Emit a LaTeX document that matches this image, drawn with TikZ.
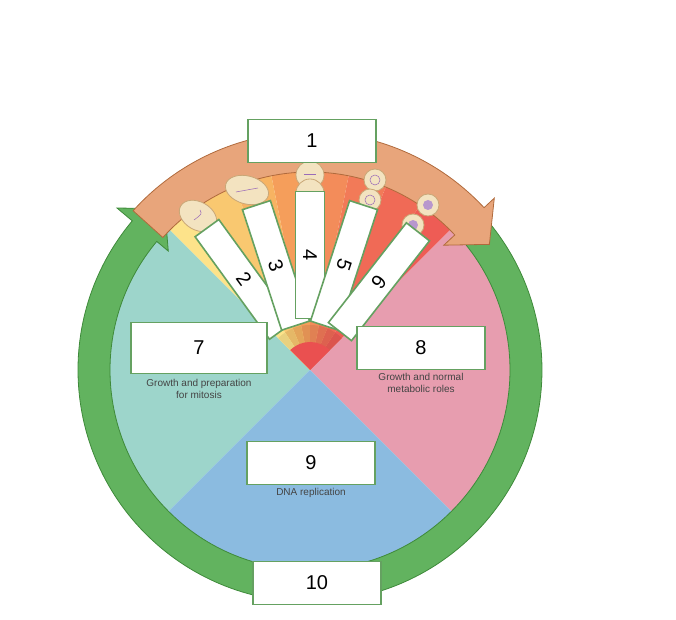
\documentclass[tikz,border=0pt]{standalone}
\usepackage{fontspec}
\setmainfont{Liberation Sans}
\usetikzlibrary{positioning}
\definecolor{gtwo}{HTML}{9DD5CB}
\definecolor{sphase}{HTML}{8BBBE0}
\definecolor{gone}{HTML}{E79DAF}
\definecolor{ringgreen}{HTML}{62B35F}
\definecolor{ringedge}{HTML}{3E8A3A}
\definecolor{mphase}{HTML}{E8A57B}
\definecolor{mphaseedge}{HTML}{B06A3C}
\definecolor{cellfill}{HTML}{F3E3C0}
\definecolor{celledge}{HTML}{C9A777}
\definecolor{chrom}{HTML}{9A6BB8}
\definecolor{labeltext}{HTML}{444444}
\definecolor{corered}{HTML}{EA5050}
\tikzset{
  numbox/.style={draw=ringedge!80, fill=white, line width=1.2pt, minimum width=96, minimum height=32, font=\fontsize{15}{15}\selectfont},
  stagebox/.style={draw=ringedge!80, fill=white, line width=1.2pt, minimum width=95, minimum height=22, font=\fontsize{15}{15}\selectfont},
  note/.style={font=\fontsize{7.5}{9}\selectfont, text=labeltext, align=center},
  cell/.style={draw=celledge, fill=cellfill, line width=0.6pt}
}
\begin{document}
\begin{tikzpicture}[x=0.75pt, y=0.75pt]
        \useasboundingbox (-310,-250) rectangle (366,370);

        % interphase sectors
        \fill[gone] (0,0) -- (-45:200) arc (-45:45:200) -- cycle;
        \fill[gtwo] (0,0) -- (135:200) arc (135:225:200) -- cycle;
        \fill[sphase] (0,0) -- (225:200) arc (225:315:200) -- cycle;

        % mitosis strips
        \foreach \i/\c in {0/EE5C55, 1/F06A56, 2/F27A58, 3/F38C5A, 4/F59E5B, 5/F7B362, 6/F9C870, 7/FDE38A} {
          \definecolor{strip}{HTML}{\c}
          \fill[strip] (0,0) -- ({45+11.25*\i}:200) arc ({45+11.25*\i}:{56.25+11.25*\i}:200) -- cycle;
          \fill[strip!92!black] (0,0) -- ({45+11.25*\i}:45) arc ({45+11.25*\i}:{56.25+11.25*\i}:45) -- cycle;
        }
        \fill[corered] (0,0) -- (45:28) arc (45:135:28) -- cycle;

        % green ring arrow
        \filldraw[ringgreen, draw=ringedge, line width=0.6pt]
          (42:200) arc (42:-220:200) -- (-220:185) -- (-228:217) -- (-220:252) -- (-220:232) arc (-220:42:232) -- cycle;

        % mitosis arrow
        \filldraw[mphase, draw=mphaseedge, line width=0.6pt]
          (138:198) arc (138:43:198) -- (43:183) -- (35:219) -- (43:252) -- (43:238) arc (43:138:238) -- cycle;

        % cells
        \filldraw[cell, rotate around={60:(-112,154)}] (-112,154) ellipse (14 and 20);
        \draw[chrom, thin] (-116,150) .. controls (-108,156) .. (-110,160);
        \filldraw[cell, rotate around={75:(-63,180)}] (-63,180) ellipse (14 and 22);
        \draw[chrom, thin] (-74,178) -- (-52,182);
        \filldraw[cell] (0,195) ellipse (14 and 14);
        \filldraw[cell] (0,177) ellipse (14 and 14);
        \draw[chrom, thin] (-6,196) -- (6,196) (-6,176) -- (6,176);
        \filldraw[cell] (65,190) circle (11);
        \filldraw[cell] (60,170) circle (11);
        \draw[chrom, thin] (65,190) circle (5) (60,170) circle (5);
        \filldraw[cell] (118,165) circle (11);
        \filldraw[cell] (103,145) circle (11);
        \fill[chrom!70] (118,165) circle (5) (103,145) circle (5);

        % numbered boxes
        \node[numbox] (phaseM) at (2,229) {1};
        \node[stagebox, rotate=-54] (stageB) at (126:112) {2};
        \node[stagebox, rotate=-72] (stageC) at (108:110) {3};
        \node[stagebox, rotate=-90] (stageD) at (90:115) {4};
        \node[stagebox, rotate=-108] (stageE) at (72:110) {5};
        \node[stagebox, rotate=-128] (stageF) at (52:112) {6};
        \node[numbox, minimum width=102, minimum height=38] (phaseG2) at (-111,22) {7};
        \node[numbox] (phaseG1) at (111,22) {8};
        \node[numbox] (phaseS) at (1,-93) {9};
        \node[numbox] (cycleI) at (7,-213) {10};

        \node[note, below=0pt of phaseG2] {Growth and preparation\\for mitosis};
        \node[note, below=-1pt of phaseG1] {Growth and normal\\metabolic roles};
        \node[note, below=-1pt of phaseS] {DNA replication};
      \end{tikzpicture}
\end{document}
